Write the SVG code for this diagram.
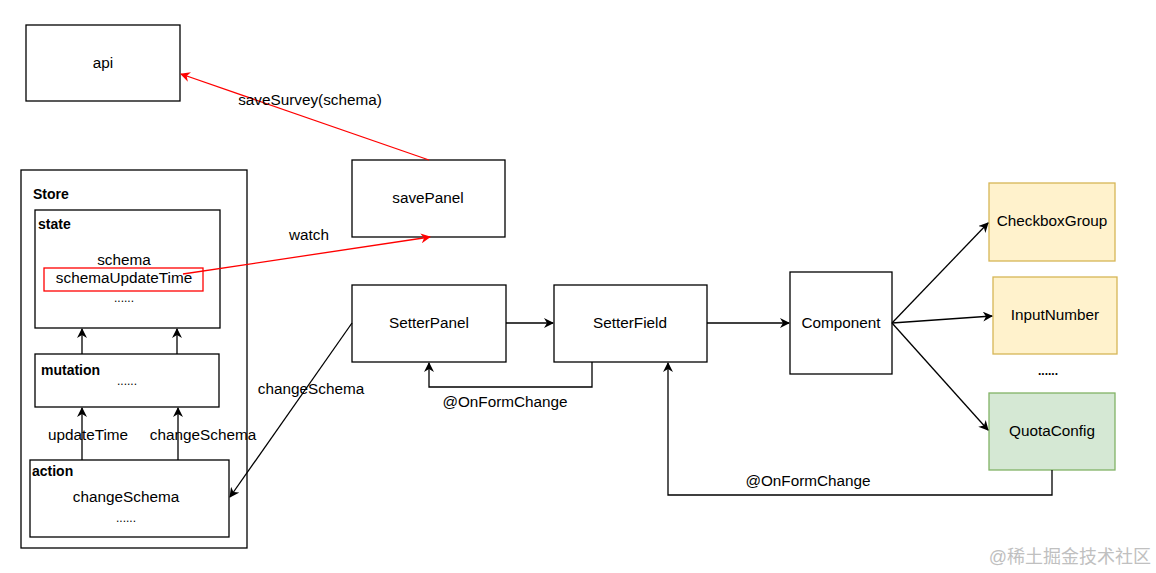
<svg xmlns="http://www.w3.org/2000/svg" width="1156" height="573" viewBox="0 0 1156 573">
<style>
text{font-family:"Liberation Sans",Arial,sans-serif;font-size:15.3px;fill:#000}
.c{text-anchor:middle}
.b{font-weight:bold;font-size:14px}
.box{fill:#fff;stroke:#000;stroke-width:1.3}
.ln{fill:none;stroke:#000;stroke-width:1.3}
.red{fill:none;stroke:#ff0000;stroke-width:1.3}
.dots{font-size:12px}
</style>
<defs>
<marker id="ah" viewBox="0 0 10 10" refX="9" refY="5" markerWidth="10" markerHeight="10" markerUnits="userSpaceOnUse" orient="auto">
<path d="M0,0 L10,5 L0,10 L3,5 Z" fill="#000"/>
</marker>
<marker id="ahr" viewBox="0 0 10 10" refX="9" refY="5" markerWidth="10" markerHeight="10" markerUnits="userSpaceOnUse" orient="auto">
<path d="M0,0 L10,5 L0,10 L3,5 Z" fill="#ff0000"/>
</marker>
</defs>
<rect width="1156" height="573" fill="#fff"/>

<g id="api"><rect class="box" x="26" y="25" width="154" height="76"/><text class="c" x="103" y="68">api</text></g>

<g id="store">
<rect class="box" x="21" y="170" width="226" height="378"/>
<text class="b" x="33" y="199">Store</text>
</g>
<g id="state">
<rect class="box" x="35" y="210" width="185" height="118"/>
<text class="b" x="38" y="229">state</text>
<text class="c" x="124" y="265">schema</text>
<rect x="44" y="268" width="159" height="23" fill="none" stroke="#ff0000" stroke-width="1.3"/>
<text class="c" x="124" y="283">schemaUpdateTime</text>
<text class="c dots" x="124" y="302">......</text>
</g>
<g id="mutation">
<rect class="box" x="35" y="354" width="184" height="53"/>
<text class="b" x="41" y="375">mutation</text>
<text class="c dots" x="127" y="385">......</text>
</g>
<g id="action">
<rect class="box" x="30" y="460" width="199" height="77"/>
<text class="b" x="32" y="476">action</text>
<text class="c" x="126" y="502">changeSchema</text>
<text class="c dots" x="126" y="522">......</text>
</g>

<g id="savePanel"><rect class="box" x="352" y="160" width="153" height="77"/><text class="c" x="428" y="203">savePanel</text></g>
<g id="setterPanel"><rect class="box" x="352" y="285" width="154" height="77"/><text class="c" x="429" y="328">SetterPanel</text></g>
<g id="setterField"><rect class="box" x="554" y="285" width="153" height="77"/><text class="c" x="630" y="328">SetterField</text></g>
<g id="component"><rect class="box" x="790" y="272" width="102" height="102"/><text class="c" x="841" y="328">Component</text></g>
<g id="checkboxGroup"><rect x="989" y="183" width="126" height="78" fill="#fff2cc" stroke="#d6b656" stroke-width="1.3"/><text class="c" x="1052" y="226">CheckboxGroup</text></g>
<g id="inputNumber"><rect x="993" y="277" width="124" height="77" fill="#fff2cc" stroke="#d6b656" stroke-width="1.3"/><text class="c" x="1055" y="320">InputNumber</text></g>
<g id="more"><text class="c b" x="1048" y="375" style="font-size:12px">......</text></g>
<g id="quotaConfig"><rect x="989" y="393" width="126" height="77" fill="#d5e8d4" stroke="#82b366" stroke-width="1.3"/><text class="c" x="1052" y="436">QuotaConfig</text></g>

<g id="connectors">
<line class="red" x1="429" y1="160" x2="181" y2="74" marker-end="url(#ahr)"/>
<text class="c" x="310" y="105">saveSurvey(schema)</text>
<line class="red" x1="183" y1="274" x2="430" y2="237" marker-end="url(#ahr)"/>
<text class="c" x="309" y="240">watch</text>

<line class="ln" x1="82" y1="354" x2="82" y2="329" marker-end="url(#ah)"/>
<line class="ln" x1="177" y1="354" x2="177" y2="329" marker-end="url(#ah)"/>
<line class="ln" x1="82" y1="460" x2="82" y2="408" marker-end="url(#ah)"/>
<line class="ln" x1="178" y1="460" x2="178" y2="408" marker-end="url(#ah)"/>
<text class="c" x="88" y="440">updateTime</text>
<text class="c" x="203" y="440">changeSchema</text>

<line class="ln" x1="352" y1="323" x2="230" y2="497" marker-end="url(#ah)"/>
<text class="c" x="311" y="394">changeSchema</text>

<line class="ln" x1="506" y1="323" x2="553" y2="323" marker-end="url(#ah)"/>
<polyline class="ln" points="592,362 592,387 429,387 429,363" marker-end="url(#ah)"/>
<text class="c" x="505" y="407">@OnFormChange</text>

<line class="ln" x1="707" y1="323" x2="789" y2="323" marker-end="url(#ah)"/>
<line class="ln" x1="892" y1="323" x2="988" y2="223" marker-end="url(#ah)"/>
<line class="ln" x1="892" y1="323" x2="992" y2="316" marker-end="url(#ah)"/>
<line class="ln" x1="892" y1="323" x2="988" y2="430" marker-end="url(#ah)"/>

<polyline class="ln" points="1052,470 1052,495 668,495 668,363" marker-end="url(#ah)"/>
<text class="c" x="808" y="486">@OnFormChange</text>
</g>

<text x="1151" y="563" style="font-family:'Liberation Sans','Noto Sans CJK SC',sans-serif;font-size:18px;fill:#c0c0c0;text-anchor:end">@稀土掘金技术社区</text>
</svg>
